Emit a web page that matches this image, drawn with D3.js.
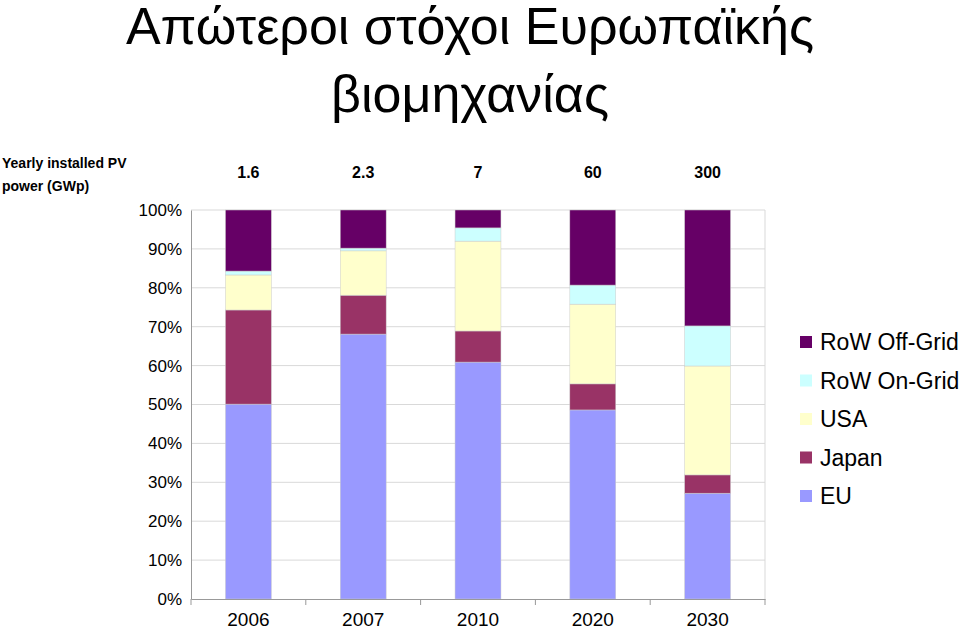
<!DOCTYPE html>
<html><head><meta charset="utf-8">
<script src="https://cdn.jsdelivr.net/npm/d3@7"></script>
<style>body{margin:0;background:#fff}</style>
</head><body>
<svg id="c" width="960" height="630"></svg>
<script>
// data (cumulative tops converted to segment shares, %)
const years = ['2006', '2007', '2010', '2020', '2030']
const totals = ['1.6', '2.3', '7', '60', '300']
const series = ['EU', 'Japan', 'USA', 'RoW On-Grid', 'RoW Off-Grid']
const EU = [50.1, 68.1, 60.9, 48.6, 27.2]
const Japan = [24.2, 10.0, 8.0, 6.7, 4.7]
const USA = [9.0, 11.4, 23.1, 20.5, 28.0]
const RoWOn = [1.0, 0.7, 3.4, 4.9, 10.3]
const RoWOff = [15.7, 9.8, 4.6, 19.3, 29.8]
const colors = ['#9999ff', '#993366', '#ffffcc', '#ccffff', '#660066']
const yTicks = [0, 10, 20, 30, 40, 50, 60, 70, 80, 90, 100]

const svg = d3.select('#c')
const font = 'Liberation Sans, Arial, sans-serif'

// title
svg.append('text').attr('x', 470).attr('y', 44).attr('text-anchor', 'middle')
  .style('font-family', font).style('font-size', '52px').text('Απώτεροι στόχοι Ευρωπαϊκής')
svg.append('text').attr('x', 470).attr('y', 112).attr('text-anchor', 'middle')
  .style('font-family', font).style('font-size', '52px').text('βιομηχανίας')

const x = d3.scaleBand().domain(years).range([191, 765]).paddingInner(0.6).paddingOuter(0.3)
const y = d3.scaleLinear().domain([0, 100]).range([599, 210])

// grid
svg.append('g').selectAll('line').data(yTicks.slice(1)).join('line')
  .attr('x1', 191).attr('x2', 765).attr('y1', d => y(d)).attr('y2', d => y(d))
  .attr('stroke', '#d9d9d9')
svg.append('line').attr('x1', 765).attr('x2', 765).attr('y1', 210).attr('y2', 599).attr('stroke', '#d9d9d9')

// stacked bars
const rows = years.map((yr, i) => ({year: yr, EU: EU[i], Japan: Japan[i], USA: USA[i], 'RoW On-Grid': RoWOn[i], 'RoW Off-Grid': RoWOff[i]}))
const stack = d3.stack().keys(series)(rows)
svg.append('g').selectAll('g').data(stack).join('g')
  .attr('fill', (d, i) => colors[i])
  .selectAll('rect').data(d => d).join('rect')
    .attr('x', d => x(d.data.year)).attr('width', x.bandwidth())
    .attr('y', d => y(d[1])).attr('height', d => y(d[0]) - y(d[1]))
    .attr('stroke', '#cccccc').attr('stroke-width', 0.5)

// axes
const yAxis = svg.append('g').attr('transform', 'translate(191,0)')
  .call(d3.axisLeft(y).tickValues(yTicks).tickFormat(d => d + '%').tickSize(0))
yAxis.selectAll('text').style('font-family', font).style('font-size', '17px').attr('x', -9)
yAxis.selectAll('line,path').attr('stroke', '#999')
const xAxis = svg.append('g').attr('transform', 'translate(0,599)')
  .call(d3.axisBottom(x).tickSize(0).tickPadding(14))
xAxis.selectAll('text').style('font-family', font).style('font-size', '19px')
xAxis.select('path').attr('stroke', '#999')
svg.append('g').selectAll('line').data(d3.range(6)).join('line')
  .attr('x1', i => 191 + i * (574 / 5)).attr('x2', i => 191 + i * (574 / 5))
  .attr('y1', 599).attr('y2', 605).attr('stroke', '#999')

// totals row
svg.append('text').attr('x', 2).attr('y', 168).style('font-family', font).style('font-weight', 'bold').style('font-size', '14px').text('Yearly installed PV')
svg.append('text').attr('x', 2).attr('y', 191).style('font-family', font).style('font-weight', 'bold').style('font-size', '14px').text('power (GWp)')
svg.append('g').selectAll('text').data(years).join('text')
  .attr('x', (d, i) => x(d) + x.bandwidth() / 2).attr('y', 178).attr('text-anchor', 'middle')
  .style('font-family', font).style('font-weight', 'bold').style('font-size', '16px')
  .text((d, i) => totals[i])

// legend
const leg = svg.append('g').selectAll('g').data(series.slice().reverse()).join('g')
  .attr('transform', (d, i) => `translate(800,${336 + i * 38.5})`)
leg.append('rect').attr('width', 12).attr('height', 12)
  .attr('fill', d => colors[series.indexOf(d)])
leg.append('text').attr('x', 20).attr('y', 14).style('font-family', font).style('font-size', '23px').text(d => d)
</script>
</body></html>
